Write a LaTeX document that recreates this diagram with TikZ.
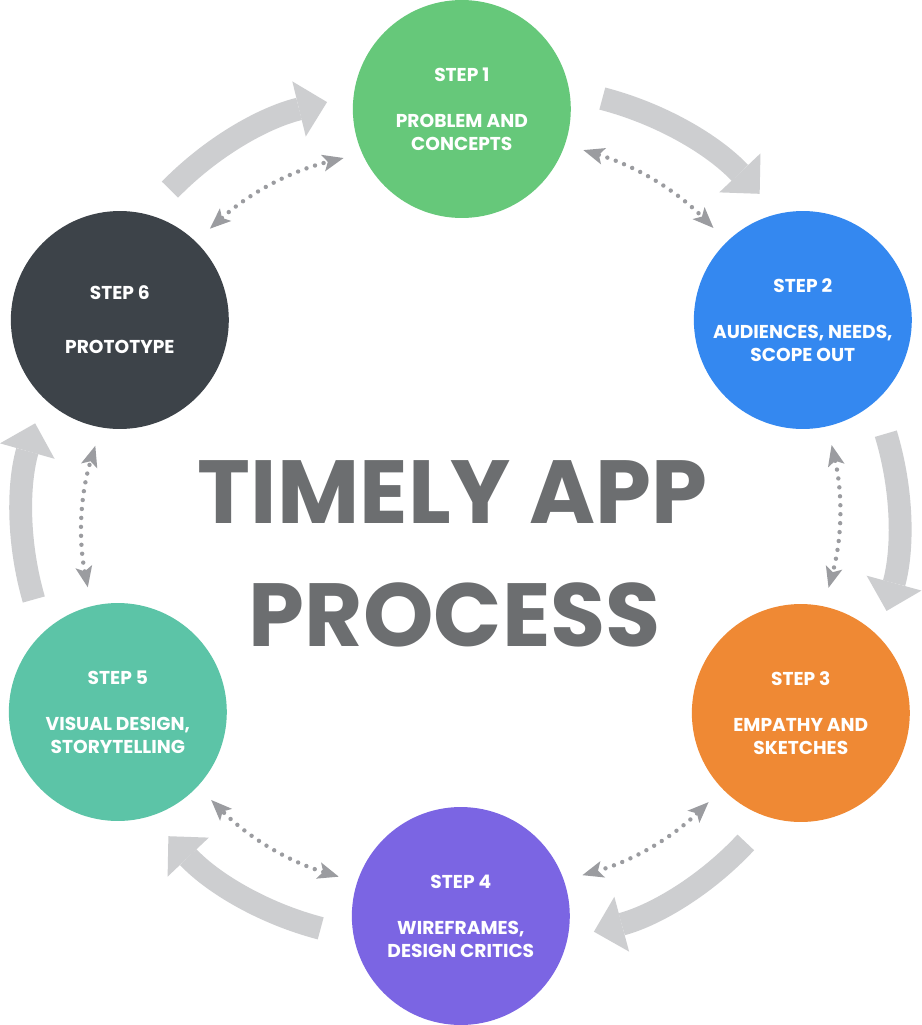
\documentclass[tikz,border=0pt]{standalone}
\usepackage{fontspec}
\setmainfont{Poppins}
\usetikzlibrary{arrows.meta}

\definecolor{stepgreen}{HTML}{66C87A}
\definecolor{stepblue}{HTML}{3488F0}
\definecolor{steporange}{HTML}{EF8934}
\definecolor{steppurple}{HTML}{7B65E3}
\definecolor{stepteal}{HTML}{5CC4A7}
\definecolor{stepdark}{HTML}{3D4349}
\definecolor{arrowgrey}{HTML}{CDCED0}
\definecolor{dotgrey}{HTML}{9B9CA0}
\definecolor{titlegrey}{HTML}{6C6E70}

\begin{document}
\begin{tikzpicture}[x=0.02cm, y=-0.02cm,
    stepcircle/.style={circle, minimum size=4.36cm, inner sep=0pt, text=white,
        align=center, font=\bfseries\fontsize{10.6}{12.8}\selectfont},
    titletext/.style={anchor=base, text=titlegrey,
        font=\bfseries\fontsize{51}{61}\selectfont},
    cyclearrow/.style={draw=arrowgrey, line width=13pt,
        -{Triangle[length=16.4pt, width=32.3pt, line width=0pt]},
        shorten <=19.3pt, shorten >=15.4pt},
    linkarrow/.style={draw=dotgrey, line width=2.5pt, line cap=round,
        dash pattern=on 0pt off 5.1pt,
        {Stealth[length=12pt, width=9.7pt, inset=2.8pt, line width=0pt]}-{Stealth[length=12pt, width=9.7pt, inset=2.8pt, line width=0pt]},
        shorten <=10.8pt, shorten >=10.8pt}]

    \fill[white] (0,0) rectangle (918,1025);

    % Steps
    \node[stepcircle, fill=stepgreen] (s1) at (459,109) {STEP 1\\[13.7pt]PROBLEM AND\\CONCEPTS};
    \node[stepcircle, fill=stepblue] (s2) at (800,320) {STEP 2\\[13.7pt]AUDIENCES, NEEDS,\\SCOPE OUT};
    \node[stepcircle, fill=steporange] (s3) at (798,713) {STEP 3\\[13.7pt]EMPATHY AND\\SKETCHES};
    \node[stepcircle, fill=steppurple] (s4) at (458,916) {STEP 4\\[13.7pt]WIREFRAMES,\\DESIGN CRITICS};
    \node[stepcircle, fill=stepteal] (s5) at (115,712) {STEP 5\\[13.7pt]VISUAL DESIGN,\\STORYTELLING};
    \node[stepcircle, fill=stepdark] (s6) at (117,320) {STEP 6\\[17.9pt]PROTOTYPE};

    % Title
    \node[titletext] (title1) at (450,523) {TIMELY APP};
    \node[titletext] (title2) at (452,646) {PROCESS};

    % Cycle arrows
    \draw[cyclearrow] (s6.76) to[bend left=16] (s1.173);
    \draw[cyclearrow] (s1.10) to[bend left=16] (s2.103);
    \draw[cyclearrow] (s2.-48) to[bend left=16] (s3.44);
    \draw[cyclearrow] (s3.-107) to[bend left=16] (s4.-12);
    \draw[cyclearrow] (s4.191) to[bend left=16] (s5.-73);
    \draw[cyclearrow] (s5.133) to[bend left=16] (s6.225);

    % Links between neighbours
    \draw[linkarrow] (s6.46) to[bend left=14] (s1.204);
    \draw[linkarrow] (s1.-19) to[bend left=14] (s2.134);
    \draw[linkarrow] (s2.-77) to[bend left=14] (s3.78);
    \draw[linkarrow] (s3.224) to[bend left=14] (s4.19);
    \draw[linkarrow] (s4.162) to[bend left=14] (s5.-43);
    \draw[linkarrow] (s5.104) to[bend left=14] (s6.260);
\end{tikzpicture}
\end{document}
